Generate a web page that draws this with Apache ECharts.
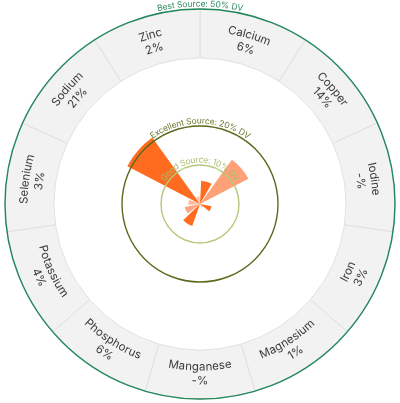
<!DOCTYPE html>
<html lang="en">
<head>
<meta charset="UTF-8">
<title>Nutrient DV</title>
<script src="https://cdn.jsdelivr.net/npm/echarts@6/dist/echarts.min.js"></script>
<style>
  html, body { margin: 0; padding: 0; background: #fff; }
  #main { width: 400px; height: 403px; }
</style>
</head>
<body>
<div id="main"></div>
<script>
    // data
    var nutrients = ['Calcium', 'Copper', 'Iodine', 'Iron', 'Magnesium', 'Manganese',
                     'Phosphorus', 'Potassium', 'Selenium', 'Sodium', 'Zinc'];
    var dvPercent = [6, 14, null, 3, 1, null, 6, 4, 3, 21, 2];
    var barColors = ['#ff6c1f', '#ffa079', '#ffa079', '#ff6c1f', '#ffb594', '#ffb594',
                     '#ff6c1f', '#ffa784', '#ffbb9e', '#ff6c1f', '#fdc4ab'];

    // reference circles
    var levels = [10, 20, 50];
    var levelNames = ['Good Source: 10% DV', 'Excellent Source: 20% DV', 'Best Source: 50% DV'];
    var levelColors = ['#b4c97a', '#5a6a1c', '#23875a'];
    var levelTextColors = ['#a9bd6e', '#6a7a2e', '#2f8a5f'];

    var CX = 200, CY = 204, R = 195, RMAX = 50;
    var RING_IN = 146;
    var FONT = 'Inter, "Noto Sans", sans-serif';

    var myChart = echarts.init(document.getElementById('main'));

    // curved text: one text element per character along an arc
    var ctx = document.createElement('canvas').getContext('2d');
    function arcText(str, r, mid, size, color, topOut) {
        var font = size + 'px ' + FONT;
        ctx.font = font;
        var total = ctx.measureText(str).width;
        var els = [];
        for (var i = 0; i < str.length; i++) {
            var a0 = ctx.measureText(str.slice(0, i)).width;
            var a1 = ctx.measureText(str.slice(0, i + 1)).width;
            var off = ((a0 + a1) / 2 - total / 2) / r;
            var a = topOut ? mid + off : mid - off;
            els.push({
                type: 'text',
                x: CX + r * Math.sin(a),
                y: CY - r * Math.cos(a),
                rotation: topOut ? -a : Math.PI - a,
                silent: true,
                z: 100,
                style: {
                    text: str[i], fill: color, font: font,
                    textAlign: 'center', textVerticalAlign: 'middle',
                    align: 'center', verticalAlign: 'middle'
                }
            });
        }
        return els;
    }

    var graphics = [];
    // circles for the source levels
    levels.forEach(function (lv, k) {
        var r = lv / RMAX * R;
        graphics.push({
            type: 'circle', silent: true, z: 90,
            shape: { cx: CX, cy: CY, r: r },
            style: { fill: 'none', stroke: levelColors[k], lineWidth: 1.4 }
        });
        graphics = graphics.concat(arcText(levelNames[k], r + 5, 0, 8.5, levelTextColors[k], true));
    });

    // labels in the outer ring
    var n = nutrients.length;
    nutrients.forEach(function (name, i) {
        var mid = (i + 0.5) * 2 * Math.PI / n;
        var deg = mid * 180 / Math.PI;
        var topOut = deg < 90 || deg > 270;
        var val = dvPercent[i] == null ? '-%' : dvPercent[i] + '%';
        var rName = topOut ? 176 : 163;
        var rVal = topOut ? 162 : 177;
        graphics = graphics.concat(arcText(name, rName, mid, 11.5, '#3a3a3a', topOut));
        graphics = graphics.concat(arcText(val, rVal, mid, 11.5, '#3a3a3a', topOut));
    });

    var hidden = { axisLine: { show: false }, axisTick: { show: false },
                   axisLabel: { show: false }, splitLine: { show: false } };

    var option = {
        animation: false,
        polar: [
            { center: [CX, CY], radius: R },
            { center: [CX, CY], radius: [RING_IN, R] }
        ],
        angleAxis: [
            Object.assign({ polarIndex: 0, type: 'category', data: nutrients, startAngle: 90, clockwise: true }, hidden),
            Object.assign({ polarIndex: 1, type: 'category', data: nutrients, startAngle: 90, clockwise: true }, hidden)
        ],
        radiusAxis: [
            Object.assign({ polarIndex: 0, min: 0, max: RMAX }, hidden),
            Object.assign({ polarIndex: 1, min: 0, max: 1 }, hidden)
        ],
        series: [
            {
                // grey label cells
                type: 'bar', coordinateSystem: 'polar', polarIndex: 1,
                data: nutrients.map(function () { return 1; }),
                barCategoryGap: 0, silent: true,
                itemStyle: { color: '#f2f2f2', borderColor: '#e0e0e0', borderWidth: 1 }
            },
            {
                type: 'bar', coordinateSystem: 'polar', polarIndex: 0,
                data: dvPercent.map(function (v, i) {
                    return { value: v, itemStyle: { color: barColors[i] } };
                }),
                barCategoryGap: '18%'
            }
        ],
        graphic: { elements: graphics }
    };

    myChart.setOption(option);
</script>
</body>
</html>
